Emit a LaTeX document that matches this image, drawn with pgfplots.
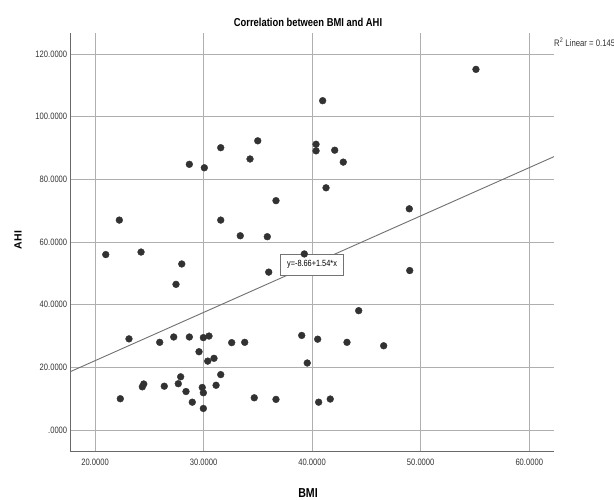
\documentclass[border=0pt]{standalone}
\usepackage{fontspec}
\setmainfont{Liberation Sans}
\newfontfamily\narrowfont{Liberation Sans}[FakeStretch=0.82]
\usepackage{pgfplots}
\pgfplotsset{compat=1.18}
\definecolor{dotc}{RGB}{50,50,50}
\definecolor{gridc}{RGB}{175,175,175}
\definecolor{spinec}{RGB}{105,105,105}
\definecolor{fitc}{RGB}{110,110,110}

\pgfplotstableread{
bmi ahi
22.24 67.0
28.69 84.8
30.07 83.7
31.58 90.1
31.58 67.0
33.38 62.0
34.28 86.5
34.99 92.3
35.87 61.7
36.67 73.2
40.36 91.2
40.36 89.1
40.97 105.1
42.08 89.3
42.87 85.5
41.28 77.3
48.95 70.6
55.09 115.1
20.99 56.0
24.24 56.8
27.99 53.0
27.46 46.5
39.28 56.2
36.00 50.4
23.13 29.1
25.96 28.0
27.25 29.7
28.69 29.7
29.98 29.5
30.50 30.0
29.58 25.0
30.38 22.0
30.96 22.9
32.59 27.9
33.79 28.0
31.58 17.7
27.89 17.0
27.67 14.8
24.36 13.8
24.49 14.7
26.38 14.0
28.38 12.3
28.96 8.9
29.88 13.6
29.98 11.9
29.98 6.9
31.15 14.3
22.33 10.0
34.67 10.3
36.67 9.8
39.04 30.2
40.51 29.0
39.55 21.4
40.60 8.9
41.67 9.9
48.99 50.9
44.29 38.1
43.21 28.0
46.59 26.9
}\bmiahi

\begin{document}
\begin{tikzpicture}
\begin{axis}[
  at={(70.7bp,48.3bp)},anchor=south west,
  width=483.3bp,height=418.7bp,scale only axis,
  xmin=17.76,xmax=62.28,ymin=-6.9,ymax=126.7,
  axis lines=left,axis line style={-,draw=spinec,line width=0.9bp},
  grid=major,major grid style={draw=gridc,line width=0.9bp},
  major tick length=0pt,
  xtick={20,30,40,50,60},xticklabels={20.0000,30.0000,40.0000,50.0000,60.0000},
  ytick={0,20,40,60,80,100,120},
  yticklabels={.0000,20.0000,40.0000,60.0000,80.0000,100.0000,120.0000},
  tick label style={font=\narrowfont\fontsize{9.3}{10}\selectfont,text=black!80},
  xticklabel style={yshift=-4bp},
  title={Correlation between BMI and AHI},
  every axis title shift=0pt,
  title style={at={(axis description cs:0.491,1.026)},anchor=center,font=\narrowfont\bfseries\fontsize{11.5}{12}\selectfont},
  xlabel={BMI},
  xlabel style={at={(axis description cs:0.491,-0.0986)},anchor=center,font=\narrowfont\bfseries\fontsize{13}{14}\selectfont},
  ylabel={AHI},
  ylabel style={at={(axis description cs:-0.109,0.5056)},anchor=center,rotate=0,font=\bfseries\fontsize{10.5}{12}\selectfont},
  clip=false]
\addplot[only marks,mark=*,mark size=3.4bp,mark options={draw=dotc,fill=dotc}] table[x=bmi,y=ahi] {\bmiahi};
\addplot[draw=fitc,line width=0.9bp] coordinates {(17.76,18.69) (62.28,87.25)};
\node[draw=black!55,fill=white,line width=0.7bp,inner sep=0pt,minimum width=62.6bp,minimum height=20.7bp,
  font=\narrowfont\fontsize{9}{10}\selectfont] at (axis cs:39.99,52.8) {y=-8.66+1.54*x};
\node[anchor=west,inner sep=0pt,font=\narrowfont\fontsize{9.5}{10}\selectfont,text=black!80]
  at (axis description cs:1.0,0.978) {R\textsuperscript{2} Linear = 0.145};
\end{axis}
\pgfresetboundingbox
\path[use as bounding box] (0,0) rectangle (614bp,500bp);
\end{tikzpicture}
\end{document}
